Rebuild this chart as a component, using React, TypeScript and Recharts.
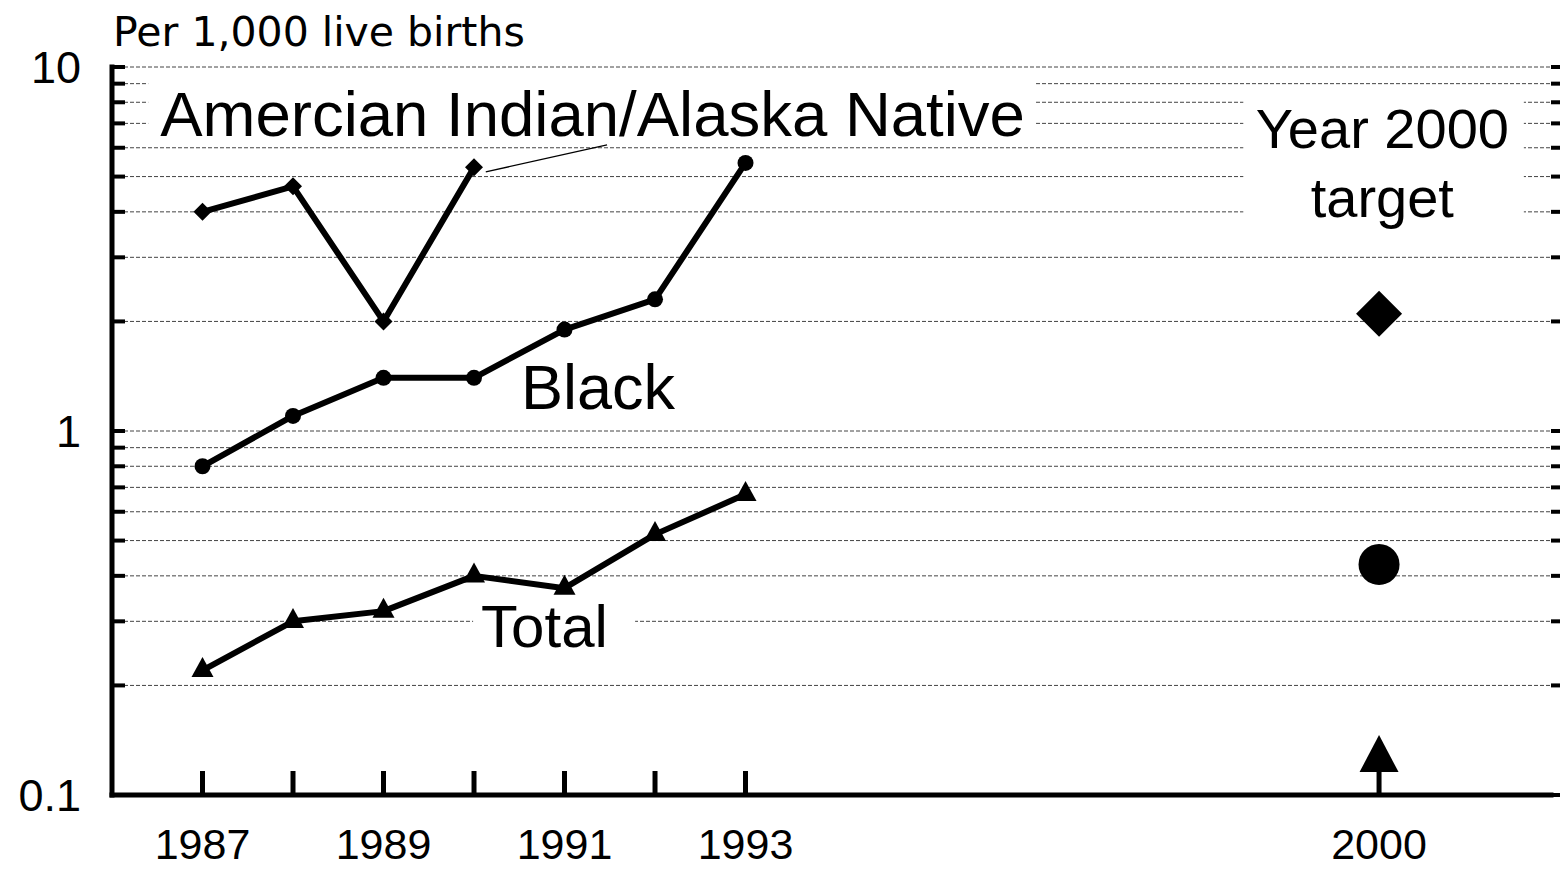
import React from 'react';
import {
  ComposedChart,
  Line,
  Scatter,
  XAxis,
  YAxis,
  CartesianGrid,
  ReferenceArea,
  ReferenceLine,
} from 'recharts';

// ---------- data ----------
const years = [1987, 1988, 1989, 1990, 1991, 1992, 1993];
const aianValues: (number | null)[] = [4.0, 4.7, 2.0, 5.3, null, null, null];
const blackValues = [0.8, 1.1, 1.4, 1.4, 1.9, 2.3, 5.45];
const totalValues = [0.22, 0.3, 0.32, 0.4, 0.37, 0.52, 0.67];

const targetYear = 2000;
const targetAian = 2.1;
const targetBlack = 0.43;
const targetTotal = 0.125;

const xTicks = [1987, 1988, 1989, 1990, 1991, 1992, 1993, 2000];
const xTickLabels = [1987, 1989, 1991, 1993, 2000];
const yTicks = [
  0.1, 0.2, 0.3, 0.4, 0.5, 0.6, 0.7, 0.8, 0.9,
  1, 2, 3, 4, 5, 6, 7, 8, 9, 10,
];
const yTickLabels: Record<string, string> = { '0.1': '0.1', '1': '1', '10': '10' };

const seriesNames = ['Amercian Indian/Alaska Native', 'Black', 'Total'];
const axisTitle = 'Per 1,000 live births';
const targetLabel = ['Year 2000', 'target'];

const data = years.map((year, i) => ({
  year,
  aian: aianValues[i],
  black: blackValues[i],
  total: totalValues[i],
}));
const targetAianData = [{ year: targetYear, value: targetAian }];
const targetBlackData = [{ year: targetYear, value: targetBlack }];
const targetTotalData = [{ year: targetYear, value: targetTotal }];

// ---------- styles ----------
const FONT = '"Liberation Sans", Arial, Helvetica, sans-serif';
const TITLE_FONT = '"DejaVu Sans", Verdana, sans-serif';

type Kind = 'diamond' | 'circle' | 'triangle';

const Marker = ({ kind, cx, cy, big }: { kind: Kind; cx: number; cy: number; big?: boolean }) => {
  if (kind === 'diamond') {
    const r = big ? 23 : 9;
    return (
      <polygon
        points={`${cx},${cy - r} ${cx + r},${cy} ${cx},${cy + r} ${cx - r},${cy}`}
        fill="#000"
      />
    );
  }
  if (kind === 'circle') {
    return <circle cx={cx} cy={cy} r={big ? 20.5 : 8} fill="#000" />;
  }
  const w = big ? 19.5 : 11;
  const h = big ? 37 : 20;
  return (
    <polygon
      points={`${cx},${cy - (h * 2) / 3} ${cx + w},${cy + h / 3} ${cx - w},${cy + h / 3}`}
      fill="#000"
    />
  );
};

const makeDot = (kind: Kind) => (props: any) => {
  const { cx, cy, index, value } = props;
  if (cx == null || cy == null || value == null || Number.isNaN(cy)) {
    return <g key={`dot-${kind}-${index}`} />;
  }
  return (
    <g key={`dot-${kind}-${index}`}>
      <Marker kind={kind} cx={cx} cy={cy} />
    </g>
  );
};

const makeBigShape = (kind: Kind) => (props: any) => (
  <g>
    <Marker kind={kind} cx={props.cx} cy={props.cy} big />
  </g>
);

const XTick = (props: any) => {
  const { x, y, payload } = props;
  const v = payload.value;
  return (
    <g>
      <line x1={x} x2={x} y1={y} y2={y - 24} stroke="#000" strokeWidth={5} />
      {xTickLabels.includes(v) && (
        <text x={x} y={y + 64} textAnchor="middle" fontSize={43} fontFamily={FONT} fill="#000">
          {v}
        </text>
      )}
    </g>
  );
};

const YTickLeft = (props: any) => {
  const { x, y, payload } = props;
  const label = yTickLabels[String(payload.value)];
  return (
    <g>
      <line x1={x} x2={x + 13} y1={y} y2={y} stroke="#000" strokeWidth={4} />
      {label && (
        <text x={x - 31} y={y + 16} textAnchor="end" fontSize={45} fontFamily={FONT} fill="#000">
          {label}
        </text>
      )}
    </g>
  );
};

const YTickRight = (props: any) => {
  const { x, y } = props;
  return (
    <g>
      <line x1={x} x2={x + 9} y1={y} y2={y} stroke="#000" strokeWidth={4} />
    </g>
  );
};

const TitleLabel = (props: any) => {
  const vb = props.viewBox || { x: 0, y: 67, width: 112, height: 728 };
  return (
    <text
      x={vb.x + vb.width + 1}
      y={vb.y - 21}
      fontSize={41}
      fontFamily={TITLE_FONT}
      fill="#000"
    >
      {axisTitle}
    </text>
  );
};

const boxShape =
  (lines: string[], opts: { dx: number; dy: number[]; size: number; anchor?: 'start' | 'middle'; fill?: string }) =>
  (p: any) => (
    <g>
      <rect x={p.x} y={p.y} width={p.width} height={p.height} fill={opts.fill ?? '#fff'} />
      {lines.map((t, i) => (
        <text
          key={i}
          x={p.x + opts.dx}
          y={p.y + opts.dy[i]}
          fontSize={opts.size}
          fontFamily={FONT}
          textAnchor={opts.anchor ?? 'start'}
          fill="#000"
        >
          {t}
        </text>
      ))}
    </g>
  );

export default function App() {
  return (
    <div
      style={{
        position: 'absolute',
        left: 0,
        top: 0,
        width: 1560,
        height: 869,
        background: '#fff',
      }}
    >
      <ComposedChart
        width={1560}
        height={869}
        data={data}
        margin={{ top: 67, right: 0, bottom: 0, left: 0 }}
      >
        <CartesianGrid
          vertical={false}
          stroke="#444"
          strokeWidth={1}
          strokeDasharray="4 2"
        />
        <XAxis
          dataKey="year"
          type="number"
          domain={[1986, 2001.9]}
          allowDataOverflow
          ticks={xTicks}
          interval={0}
          tickSize={0}
          tickMargin={0}
          tickLine={false}
          tick={<XTick />}
          height={74}
          axisLine={{ stroke: '#000', strokeWidth: 5, strokeLinecap: 'square' }}
        />
        <YAxis
          type="number"
          scale="log"
          domain={[0.1, 10]}
          allowDataOverflow
          ticks={yTicks}
          interval={0}
          tickSize={0}
          tickMargin={0}
          tickLine={false}
          tick={<YTickLeft />}
          width={112}
          axisLine={{ stroke: '#000', strokeWidth: 5, strokeLinecap: 'square' }}
          label={<TitleLabel />}
        />
        <YAxis
          yAxisId="r"
          orientation="right"
          type="number"
          scale="log"
          domain={[0.1, 10]}
          allowDataOverflow
          ticks={yTicks}
          interval={0}
          tickSize={0}
          tickMargin={0}
          tickLine={false}
          tick={<YTickRight />}
          width={9}
          axisLine={false}
        />

        <ReferenceArea
          x1={1986.4}
          x2={1996.21}
          y1={6.11}
          y2={9.69}
          shape={boxShape([seriesNames[0]], { dx: 12, dy: [64], size: 63.5 })}
        />
        <ReferenceArea
          x1={1990.43}
          x2={1992.39}
          y1={1.07}
          y2={1.55}
          shape={boxShape([seriesNames[1]], { dx: 8, dy: [47], size: 63, fill: 'none' })}
        />
        <ReferenceArea
          x1={1989.99}
          x2={1991.78}
          y1={0.235}
          y2={0.348}
          shape={boxShape([seriesNames[2]], { dx: 8, dy: [49], size: 60 })}
        />
        <ReferenceArea
          x1={1998.5}
          x2={2001.6}
          y1={3.52}
          y2={8.65}
          shape={boxShape(targetLabel, { dx: 139, dy: [58, 127], size: 56, anchor: 'middle' })}
        />
        <ReferenceLine
          segment={[
            { x: 1990.13, y: 5.15 },
            { x: 1991.47, y: 6.11 },
          ]}
          stroke="#000"
          strokeWidth={1.3}
        />

        <Line
          dataKey="aian"
          name={seriesNames[0]}
          stroke="#000"
          strokeWidth={6}
          strokeLinejoin="round"
          dot={makeDot('diamond')}
          activeDot={false}
          isAnimationActive={false}
        />
        <Line
          dataKey="black"
          name={seriesNames[1]}
          stroke="#000"
          strokeWidth={6}
          strokeLinejoin="round"
          dot={makeDot('circle')}
          activeDot={false}
          isAnimationActive={false}
        />
        <Line
          dataKey="total"
          name={seriesNames[2]}
          stroke="#000"
          strokeWidth={6}
          strokeLinejoin="round"
          dot={makeDot('triangle')}
          activeDot={false}
          isAnimationActive={false}
        />

        <Scatter
          data={targetAianData}
          dataKey="value"
          shape={makeBigShape('diamond')}
          isAnimationActive={false}
        />
        <Scatter
          data={targetBlackData}
          dataKey="value"
          shape={makeBigShape('circle')}
          isAnimationActive={false}
        />
        <Scatter
          data={targetTotalData}
          dataKey="value"
          shape={makeBigShape('triangle')}
          isAnimationActive={false}
        />
      </ComposedChart>
    </div>
  );
}
